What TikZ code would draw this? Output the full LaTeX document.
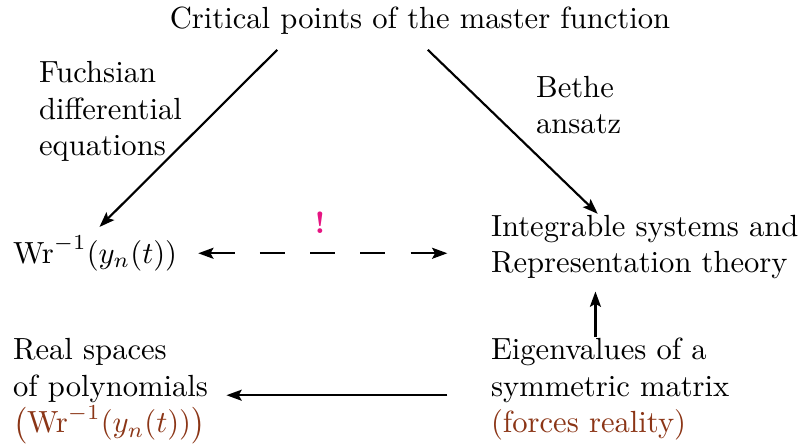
\documentclass[tikz,border=0pt]{standalone}
\usepackage{amsmath}
\usetikzlibrary{positioning, arrows.meta}
\definecolor{alertpink}{RGB}{230,20,130}
\definecolor{realbrown}{RGB}{139,53,22}

\begin{document}
\begin{tikzpicture}[> = {Stealth[length=5pt,width=3.6pt,inset=1pt]}, line width=0.7pt,
    every node/.style = {inner sep=0pt, align=left},
    dasharrow/.style = {<->, dash pattern=on 8.2pt off 8.2pt}]
    \useasboundingbox (0,0) rectangle (9.223,5.123);

    \node[anchor=base] (crit) at (4.824,4.801) {Critical points of the master function};
    \node[anchor=base west] (fuchs) at (0.436,3.334) {Fuchsian\\differential\\equations};
    \node[anchor=base west] (bethe) at (6.145,3.586) {Bethe\\ansatz};
    \node[anchor=base west] (wr) at (0.138,2.102) {$\mathrm{Wr}^{-1}(y_n(t))$};
    \node[anchor=base west] (integ) at (5.628,1.989) {Integrable systems and\\Representation theory};
    \node[anchor=base west] (eigen) at (5.628,0.152) {Eigenvalues of a\\symmetric matrix\\\textcolor{realbrown}{(forces reality)}};
    \node[anchor=base west] (real) at (0.138,0.152) {Real spaces\\of polynomials\\\textcolor{realbrown}{$\bigl(\mathrm{Wr}^{-1}(y_n(t))\bigr)$}};
    \node[text=alertpink, font=\bfseries] (excl) at (3.676,2.561) {!};

    \coordinate (cl) at ([xshift=-1.64cm,yshift=-0.17cm]crit.south);
    \coordinate (cr) at ([xshift=0.09cm,yshift=-0.17cm]crit.south);
    \coordinate (eup) at ([xshift=-0.17cm]eigen.north);
    \coordinate (eleft) at ([yshift=-0.07cm]eigen.west);

    \draw[->] (cl) -- ([xshift=0.05cm,yshift=0.09cm]wr.north);
    \draw[->] (cr) -- ([xshift=-0.54cm]integ.north);
    \draw[dasharrow, shorten <=0.23cm, shorten >=0.49cm] (wr.east) -- (wr.east -| integ.west);
    \draw[->, shorten >=0.13cm] (eup) -- (eup |- integ.south);
    \draw[->, shorten <=0.49cm, shorten >=0.2cm] (eleft) -- (eleft -| real.east);
\end{tikzpicture}
\end{document}
